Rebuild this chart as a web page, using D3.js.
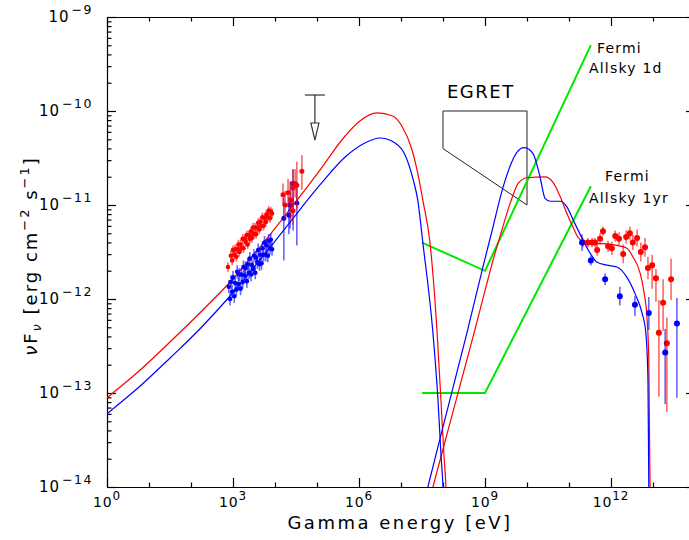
<!DOCTYPE html>
<html>
<head>
<meta charset="utf-8">
<script src="https://cdn.jsdelivr.net/npm/d3@7/dist/d3.min.js"></script>
<style>
  body { margin: 0; background: #fff; }
  svg { display: block; font-family: "DejaVu Sans", sans-serif; }
</style>
</head>
<body>
<div id="chart"></div>
<script>
// all values are log10: energy in eV, nuFnu in erg cm^-2 s^-1

// synchrotron + IC model curves
var synRedE = [0, 0.79, 1.5, 2.21, 2.93, 3.64, 4.36, 5.07, 5.67, 6.02, 6.43, 6.79, 7.02, 7.26, 7.43, 7.52, 7.69, 7.86, 7.95, 8.02, 8.07, 8.10]
var synRedF = [-13.05, -12.755, -12.457, -12.149, -11.819, -11.447, -11.043, -10.628, -10.266, -10.106, -10.02, -10.05, -10.16, -10.41, -10.73, -10.95, -11.40, -12.36, -13.07, -13.64, -14.0, -14.35]
var synBlueE = [0, 0.79, 1.5, 2.21, 2.93, 3.64, 4.36, 5.07, 5.67, 6.14, 6.5, 6.86, 7.10, 7.29, 7.40, 7.52, 7.76, 7.88, 7.95, 8.0, 8.03]
var synBlueF = [-13.22, -12.926, -12.628, -12.319, -11.968, -11.585, -11.181, -10.787, -10.489, -10.340, -10.287, -10.34, -10.47, -10.73, -10.95, -11.40, -12.36, -13.07, -13.64, -14.0, -14.35]

var icRedE = [7.69, 7.76, 8.10, 8.74, 9.26, 9.40, 9.60, 9.79, 10.0, 10.43, 10.62, 10.79, 10.95, 11.10, 11.21, 11.33, 11.50, 11.81, 12.14, 12.38, 12.52, 12.69, 12.79, 12.86, 12.90, 12.93, 12.935]
var icRedF = [-14.12, -14.0, -13.43, -12.36, -11.48, -11.27, -10.98, -10.77, -10.71, -10.70, -10.76, -10.91, -11.09, -11.24, -11.34, -11.39, -11.41, -11.41, -11.43, -11.46, -11.55, -11.72, -11.94, -12.22, -12.65, -14.0, -14.4]
var icBlueE = [7.57, 7.64, 8.0, 8.57, 8.95, 9.17, 9.43, 9.63, 9.76, 9.93, 10.14, 10.31, 10.43, 10.55, 10.79, 10.95, 11.10, 11.33, 11.50, 11.67, 11.90, 12.14, 12.38, 12.57, 12.74, 12.83, 12.88, 12.90, 12.91]
var icBlueF = [-14.13, -14.0, -13.36, -12.36, -11.66, -11.27, -10.81, -10.55, -10.44, -10.39, -10.45, -10.70, -10.93, -10.96, -10.96, -11.02, -11.16, -11.37, -11.51, -11.61, -11.64, -11.66, -11.77, -11.94, -12.15, -12.36, -12.86, -14.0, -14.4]

// sensitivity curves and EGRET bow tie
var fermi1dE = [7.5, 9.0, 11.52]
var fermi1dF = [-11.40, -11.70, -9.30]
var fermi1yE = [7.5, 9.0, 11.52]
var fermi1yF = [-13.0, -13.0, -10.80]
var egretE = [8, 10, 10, 8]
var egretF = [-10, -10, -11, -10.4]

// X-ray data (dense part)
var xRedE = [2.95, 2.98, 3.00, 3.03, 3.05, 3.08, 3.10, 3.13, 3.15, 3.18, 3.20, 3.23, 3.25, 3.28, 3.30, 3.33, 3.35, 3.38, 3.40, 3.43, 3.45, 3.48, 3.50, 3.53, 3.55, 3.58, 3.60, 3.63, 3.65, 3.68, 3.70, 3.73, 3.75, 3.78, 3.80, 3.83, 3.85, 3.88, 3.90, 3.93, 2.88]
var xRedF = [-11.54, -11.59, -11.48, -11.53, -11.47, -11.55, -11.47, -11.42, -11.50, -11.42, -11.46, -11.36, -11.46, -11.36, -11.39, -11.32, -11.42, -11.32, -11.36, -11.28, -11.35, -11.24, -11.31, -11.24, -11.31, -11.24, -11.19, -11.26, -11.18, -11.22, -11.13, -11.22, -11.14, -11.18, -11.10, -11.13, -11.06, -11.14, -11.07, -11.09, -11.66]
var xRedErr = 0.05
var xBlueE = [2.90, 2.93, 2.95, 2.98, 3.00, 3.03, 3.05, 3.08, 3.10, 3.13, 3.15, 3.18, 3.20, 3.23, 3.25, 3.28, 3.30, 3.33, 3.35, 3.38, 3.40, 3.43, 3.45, 3.48, 3.50, 3.53, 3.55, 3.58, 3.60, 3.63, 3.65, 3.68, 3.70, 3.73, 3.75, 3.78, 3.80, 3.83, 3.85, 3.88, 3.90, 3.93]
var xBlueF = [-11.87, -12.00, -11.82, -11.92, -11.77, -11.97, -11.83, -11.90, -11.71, -11.84, -11.74, -11.89, -11.74, -11.82, -11.66, -11.75, -11.67, -11.81, -11.63, -11.72, -11.57, -11.74, -11.64, -11.68, -11.54, -11.72, -11.56, -11.61, -11.48, -11.63, -11.53, -11.62, -11.46, -11.53, -11.40, -11.53, -11.43, -11.54, -11.38, -11.46, -11.37, -11.47]
var xBlueErr = 0.07

// hard X-ray points with error bars
var hxRedE = [4.19, 4.24, 4.31, 4.38, 4.43, 4.48, 4.52, 4.64, 4.43]
var hxRedF = [-10.89, -11.0, -10.87, -10.95, -10.82, -10.77, -10.79, -10.64, -11.06]
var hxRedLo = [0.12, 0.15, 0.15, 0.2, 0.2, 0.15, 0.25, 0.2, 0.15]
var hxRedHi = [0.12, 0.15, 0.15, 0.2, 0.2, 0.15, 0.25, 0.17, 0.15]
var hxBlueE = [4.21, 4.33, 4.36, 4.43, 4.52]
var hxBlueF = [-11.14, -11.11, -11.0, -10.77, -10.98]
var hxBlueLo = [0.45, 0.2, 0.25, 0.5, 0.45]
var hxBlueHi = [0.22, 0.2, 0.25, 0.15, 0.2]

// TeV points
var tevRedE = [11.33, 11.45, 11.55, 11.62, 11.67, 11.74, 11.81, 11.93, 12.02, 12.10, 12.19, 12.29, 12.36, 12.45, 12.52, 12.62, 12.71, 12.81, 12.88, 12.98, 13.07, 13.14, 13.24, 13.33, 13.43]
var tevRedF = [-11.40, -11.40, -11.40, -11.40, -11.48, -11.36, -11.28, -11.44, -11.46, -11.33, -11.36, -11.52, -11.34, -11.30, -11.40, -11.35, -11.50, -11.45, -11.67, -11.64, -11.78, -12.36, -12.04, -12.47, -11.79]
var tevRedLo = [0.05, 0.05, 0.05, 0.05, 0.06, 0.06, 0.05, 0.06, 0.07, 0.06, 0.07, 0.1, 0.07, 0.07, 0.08, 0.09, 0.1, 0.1, 0.12, 0.25, 0.25, 0.68, 0.3, 0.73, 0.22]
var tevRedHi = [0.05, 0.05, 0.05, 0.05, 0.06, 0.06, 0.05, 0.06, 0.07, 0.06, 0.07, 0.1, 0.07, 0.07, 0.08, 0.09, 0.1, 0.1, 0.12, 0.11, 0.1, 0.35, 0.25, 0.27, 0.22]
var tevBlueE = [11.31, 11.52, 11.86, 12.21, 12.57, 12.90, 13.29, 13.57]
var tevBlueF = [-11.40, -11.59, -11.79, -11.97, -12.06, -12.15, -12.57, -12.26]
var tevBlueLo = [0.09, 0.05, 0.06, 0.1, 0.12, 0.18, 0.55, 0.79]
var tevBlueHi = [0.09, 0.05, 0.06, 0.1, 0.09, 0.17, 0.25, 0.27]

// upper limit
var ulE = [4.95]
var ulF = [-9.83]

var xTickLabels = [0, 3, 6, 9, 12]
var yTickLabels = [-9, -10, -11, -12, -13, -14]

var width = 689
var height = 540
var red = '#ff0000'
var blue = '#0000ff'
var green = '#00e800'

var x = d3.scaleLog().domain([1, 1e14]).range([107, 695])
var y = d3.scaleLog().domain([1e-14, 1e-9]).range([487, 17])
var px = function(e) { return x(Math.pow(10, e)) }
var py = function(f) { return y(Math.pow(10, f)) }
var zip = function(a, b) { return a.map(function(v, i) { return [v, b[i]] }) }

var svg = d3.select('#chart').append('svg').attr('width', width).attr('height', height)

svg.append('clipPath').attr('id', 'plot')
  .append('rect').attr('x', 107).attr('y', 17).attr('width', 588).attr('height', 470)

// axes: decade ticks long, minors short, all pointing inward
var decadesX = d3.range(0, 15).map(function(e) { return Math.pow(10, e) })
var majorX = decadesX.filter(function(v, i) { return i % 3 == 0 })
var minorX = decadesX.filter(function(v, i) { return i % 3 != 0 })
var decadesY = d3.range(-14, -8).map(function(e) { return Math.pow(10, e) })
var minorY = []
d3.range(-14, -9).forEach(function(e) {
  for (var m = 2; m < 10; m++) minorY.push(m * Math.pow(10, e))
})

var drawAxis = function(axisFn, scale, tr, values, len, withDomain) {
  var g = svg.append('g').attr('transform', tr)
    .call(axisFn(scale).tickValues(values).tickSizeInner(-len).tickSizeOuter(0).tickFormat(''))
  if (!withDomain) g.select('.domain').remove()
  g.selectAll('line').attr('stroke', '#000').attr('stroke-width', 1.2)
  g.select('.domain').attr('stroke', '#000').attr('stroke-width', 1.2)
}

drawAxis(d3.axisBottom, x, 'translate(0,487)', majorX, 9, true)
drawAxis(d3.axisBottom, x, 'translate(0,487)', minorX, 4.5, false)
drawAxis(d3.axisTop, x, 'translate(0,17)', majorX, 9, true)
drawAxis(d3.axisTop, x, 'translate(0,17)', minorX, 4.5, false)
drawAxis(d3.axisLeft, y, 'translate(107,0)', decadesY, 9, true)
drawAxis(d3.axisLeft, y, 'translate(107,0)', minorY, 4.5, false)
drawAxis(d3.axisRight, y, 'translate(695,0)', decadesY, 9, true)
drawAxis(d3.axisRight, y, 'translate(695,0)', minorY, 4.5, false)

// tick labels as 10^n
xTickLabels.forEach(function(e) {
  var t = svg.append('text').attr('x', px(e)).attr('y', 507)
    .attr('text-anchor', 'middle').attr('font-size', 14).attr('letter-spacing', 0.8)
  t.append('tspan').text('10')
  t.append('tspan').attr('dy', -7).attr('font-size', 12).text(e)
})
yTickLabels.forEach(function(e) {
  var t = svg.append('text').attr('x', 93).attr('y', py(e) + 5)
    .attr('text-anchor', 'end').attr('font-size', 15).attr('letter-spacing', 1)
  t.append('tspan').text('10')
  t.append('tspan').attr('dx', 2).attr('dy', -8).attr('font-size', 12.5).attr('letter-spacing', 1.5).text('\u2212' + (-e))
})

// axis titles
svg.append('text').attr('x', 400).attr('y', 529).attr('text-anchor', 'middle')
  .attr('font-size', 18).attr('letter-spacing', 2.5).text('Gamma energy [eV]')

var yt = svg.append('text').attr('transform', 'translate(37,256) rotate(-90)')
  .attr('text-anchor', 'middle').attr('font-size', 18).attr('letter-spacing', 2)
yt.append('tspan').attr('font-style', 'italic').text('\u03bd')
yt.append('tspan').text('F')
yt.append('tspan').attr('dy', 4).attr('font-size', 13).attr('font-style', 'italic').text('\u03bd')
yt.append('tspan').attr('dy', -4).text(' [erg cm')
yt.append('tspan').attr('dy', -8).attr('font-size', 13).text('\u22122')
yt.append('tspan').attr('dy', 8).text(' s')
yt.append('tspan').attr('dy', -8).attr('font-size', 13).text('\u22121')
yt.append('tspan').attr('dy', 8).text(']')

var plot = svg.append('g').attr('clip-path', 'url(#plot)')

var curve = d3.line()
  .x(function(d) { return px(d[0]) })
  .y(function(d) { return py(d[1]) })
  .curve(d3.curveMonotoneX)
var straight = d3.line()
  .x(function(d) { return px(d[0]) })
  .y(function(d) { return py(d[1]) })

// EGRET bow tie
plot.append('path').attr('d', straight(zip(egretE, egretF)) + 'Z')
  .attr('fill', 'none').attr('stroke', '#222').attr('stroke-width', 1)

// Fermi sensitivities
;[[fermi1dE, fermi1dF], [fermi1yE, fermi1yF]].forEach(function(s) {
  plot.append('path').attr('d', straight(zip(s[0], s[1])))
    .attr('fill', 'none').attr('stroke', green).attr('stroke-width', 2)
})

// model curves
;[[synRedE, synRedF, red], [icRedE, icRedF, red], [synBlueE, synBlueF, blue], [icBlueE, icBlueF, blue]].forEach(function(s) {
  plot.append('path').attr('d', curve(zip(s[0], s[1])))
    .attr('fill', 'none').attr('stroke', s[2]).attr('stroke-width', 1.2)
})

// data points with vertical error bars
var drawPoints = function(E, F, lo, hi, color, r) {
  var pts = E.map(function(e, i) {
    return { e: e, f: F[i], lo: Array.isArray(lo) ? lo[i] : lo, hi: Array.isArray(hi) ? hi[i] : hi }
  })
  var g = plot.append('g')
  g.selectAll('line').data(pts).enter().append('line')
    .attr('x1', function(d) { return px(d.e) }).attr('x2', function(d) { return px(d.e) })
    .attr('y1', function(d) { return py(d.f - d.lo) }).attr('y2', function(d) { return py(d.f + d.hi) })
    .attr('stroke', color).attr('stroke-width', 1.6).attr('stroke-opacity', 0.6)
  g.selectAll('circle').data(pts).enter().append('circle')
    .attr('cx', function(d) { return px(d.e) }).attr('cy', function(d) { return py(d.f) })
    .attr('r', r).attr('fill', color)
}

drawPoints(xBlueE, xBlueF, xBlueErr, xBlueErr, blue, 2.3)
drawPoints(xRedE, xRedF, xRedErr, xRedErr, red, 2.3)
drawPoints(hxBlueE, hxBlueF, hxBlueLo, hxBlueHi, blue, 2.5)
drawPoints(hxRedE, hxRedF, hxRedLo, hxRedHi, red, 2.5)
drawPoints(tevRedE, tevRedF, tevRedLo, tevRedHi, red, 3)
drawPoints(tevBlueE, tevBlueF, tevBlueLo, tevBlueHi, blue, 3)

// upper limit arrow
ulE.forEach(function(e, i) {
  var cx = px(e), cy = py(ulF[i])
  var g = svg.append('g').attr('stroke', '#333').attr('stroke-width', 1.2).attr('fill', 'none')
  g.append('line').attr('x1', cx - 10).attr('x2', cx + 10).attr('y1', cy).attr('y2', cy)
  g.append('line').attr('x1', cx).attr('x2', cx).attr('y1', cy).attr('y2', cy + 28)
  g.append('path').attr('d', 'M' + (cx - 4) + ',' + (cy + 28) + 'L' + (cx + 4) + ',' + (cy + 28) + 'L' + cx + ',' + (cy + 45) + 'Z')
})

// annotations
svg.append('text').attr('x', 447).attr('y', 98).attr('font-size', 18).attr('letter-spacing', 1.5).text('EGRET')
var lab = function(xx, yy, s) {
  svg.append('text').attr('x', xx).attr('y', yy).attr('font-size', 14).attr('letter-spacing', 1.2).text(s)
}
lab(597, 53, 'Fermi')
lab(589, 73, 'Allsky 1d')
lab(605, 181, 'Fermi')
lab(589, 203, 'Allsky 1yr')
</script>
</body>
</html>
